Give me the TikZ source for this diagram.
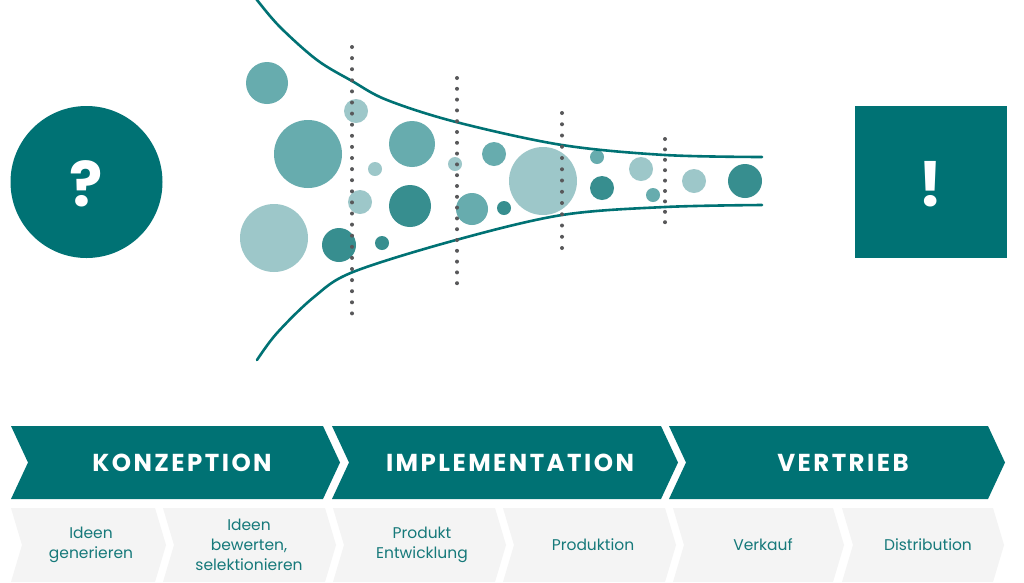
\documentclass[tikz,border=0pt]{standalone}
\usepackage{fontspec}
\setmainfont{Poppins}
\newfontfamily\headfont[LetterSpace=10]{Poppins}
\begin{document}
\begin{tikzpicture}[x=1pt,y=-1pt]
\definecolor{teal}{HTML}{007274}
\definecolor{bmed}{HTML}{67ACAE}
\definecolor{blight}{HTML}{9DC7C9}
\definecolor{bdark}{HTML}{378E8F}
\definecolor{dotc}{HTML}{58585A}
\definecolor{subfill}{HTML}{F4F4F4}
\definecolor{subtext}{HTML}{16797A}
\tikzset{
  funnel/.style={draw=teal, line width=2.6pt, line cap=round},
  headlbl/.style={text=white, font=\headfont\bfseries\fontsize{24.5}{27}\selectfont, anchor=center},
  sublbl/.style={text=subtext, font=\fontsize{15.5}{20}\selectfont, align=center, anchor=center},
  signmark/.style={text=white, font=\bfseries\fontsize{62}{62}\selectfont, anchor=center}
}
\useasboundingbox (0,0) rectangle (1024,582);
\fill[white] (0,0) rectangle (1024,582);

% question circle and exclamation square
\fill[teal] (86.5,182) circle (76pt);
\node[signmark] (q) at (86.5,184) {?};
\fill[teal] (855,106) rectangle (1007,258);
\node[signmark] (ex) at (931,184) {!};

% bubbles
\foreach \x/\y/\r/\c in {
 267/83/21/bmed, 308/154/34/bmed, 274/238/34/blight, 339/245/17/bdark,
 356/111/12/blight, 375/169/7/blight, 360/202/12/blight, 382/243/7/bdark,
 412/144/23/bmed, 410/206/21/bdark, 455/164/7/blight, 494/154/12/bmed,
 472/209/16/bmed, 504/208/7/bdark, 543/181/34/blight, 597/157/7/bmed,
 602/188/12/bdark, 641/169/12/blight, 653/195/7/bmed, 694/181/12/blight,
 745/181/17/bdark}
  \fill[\c] (\x,\y) circle (\r pt);

% funnel curves
\draw[funnel] plot[smooth, tension=0.55] coordinates {(254,-5) (257,0) (280,27) (317,60) (352,81) (387,100) (456,122) (562,145) (665,155) (762,157)};
\draw[funnel] plot[smooth, tension=0.55] coordinates {(257,360) (277,333) (314,297) (353,272) (456,240) (562,215) (665,207) (762,205)};

% dotted stage lines
\foreach \i in {0,...,24} \fill[dotc] (352,47+\i*11.1) circle (2pt);
\foreach \i in {0,...,19} \fill[dotc] (457,78+\i*10.8) circle (2pt);
\foreach \i in {0,...,12} \fill[dotc] (562,113+\i*11.25) circle (2pt);
\foreach \i in {0,...,8} \fill[dotc] (665,139+\i*10.4) circle (2pt);

% main phase chevrons
\foreach \l/\r in {11/323, 332/661, 669/988}
  \fill[teal] (\l,426) -- (\r,426) -- (\r+17,462.5) -- (\r,499) -- (\l,499) -- (\l+17,462.5) -- cycle;
\node[headlbl] (h1) at (182,462.5) {KONZEPTION};
\node[headlbl] (h2) at (510,462.5) {IMPLEMENTATION};
\node[headlbl] (h3) at (843,462.5) {VERTRIEB};

% sub-step chevrons
\foreach \l/\r in {11/155, 163/325, 333/495, 503/665, 673/833, 842/993}
  \fill[subfill] (\l,508) -- (\r,508) -- (\r+11,545) -- (\r,582) -- (\l,582) -- (\l+11,545) -- cycle;
\node[sublbl] (s1) at (91,545) {Ideen\\generieren};
\node[sublbl] (s2) at (249,545) {Ideen\\bewerten,\\selektionieren};
\node[sublbl] (s3) at (422,545) {Produkt\\Entwicklung};
\node[sublbl] (s4) at (593,545) {Produktion};
\node[sublbl] (s5) at (763,545) {Verkauf};
\node[sublbl] (s6) at (928,545) {Distribution};
\end{tikzpicture}
\end{document}
